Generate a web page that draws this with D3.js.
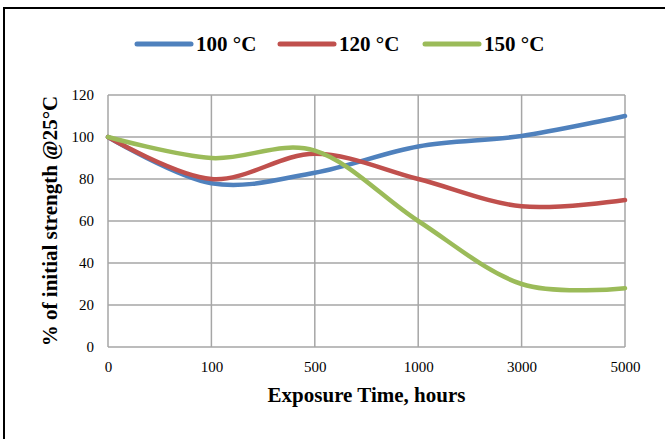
<!DOCTYPE html>
<html>
<head>
<meta charset="utf-8">
<script src="https://cdn.jsdelivr.net/npm/d3@7"></script>
<style>
  body { margin: 0; background: #fff; }
  text { font-family: "Liberation Serif", "Times New Roman", serif; fill: #000; }
</style>
</head>
<body>
<script>
// exposure time categories (hours)
const hours = ['0', '100', '500', '1000', '3000', '5000'];
const seriesNames = ['100 °C', '120 °C', '150 °C'];
const temp100 = [100, 78, 83, 95.5, 100.5, 110];
const temp120 = [100, 80, 92, 80, 67, 70];
const temp150 = [100, 90, 93.5, 60, 30, 28];
const yTicks = [0, 20, 40, 60, 80, 100, 120];
const colours = ['#4f81bd', '#c0504d', '#9bbb59'];

const width = 665;
const height = 439;
const margin = {top: 95, right: 40, bottom: 92, left: 108};

const svg = d3.select('body')
              .append('svg')
                .attr('width', width)
                .attr('height', height);

// outer frame (runs off the right and bottom of the picture)
svg.append('rect')
   .attr('x', 4)
   .attr('y', 8)
   .attr('width', width + 10)
   .attr('height', height + 10)
   .attr('fill', 'none')
   .attr('stroke', '#000')
   .attr('stroke-width', 2);

const xScale = d3.scalePoint()
                 .domain(hours)
                 .range([margin.left, width - margin.right]);

const yScale = d3.scaleLinear()
                 .domain([0, 120])
                 .range([height - margin.bottom, margin.top]);

// gridlines
svg.append('g')
   .selectAll('line')
   .data(yTicks)
   .enter()
   .append('line')
     .attr('x1', margin.left)
     .attr('x2', width - margin.right)
     .attr('y1', (d) => yScale(d))
     .attr('y2', (d) => yScale(d))
     .attr('stroke', '#a6a6a6')
     .attr('stroke-width', 1.5);

svg.append('g')
   .selectAll('line')
   .data(hours)
   .enter()
   .append('line')
     .attr('x1', (d) => xScale(d))
     .attr('x2', (d) => xScale(d))
     .attr('y1', yScale(0))
     .attr('y2', yScale(120))
     .attr('stroke', '#a6a6a6')
     .attr('stroke-width', 1.5);

// y axis labels
const yAxis = svg.append('g')
                 .attr('transform', `translate(${margin.left - 14}, 0)`)
                 .call(d3.axisLeft(yScale).tickValues(yTicks).tickSize(0).tickPadding(0));
yAxis.select('.domain').remove();
yAxis.selectAll('text')
     .style('font-family', '"Liberation Serif", serif')
     .style('font-size', '15px');

// x axis labels
const xAxis = svg.append('g')
                 .attr('transform', `translate(0, ${yScale(0) + 14})`)
                 .call(d3.axisBottom(xScale).tickSize(0).tickPadding(0));
xAxis.select('.domain').remove();
xAxis.selectAll('text')
     .style('font-family', '"Liberation Serif", serif')
     .style('font-size', '15px');

// axis titles
svg.append('text')
   .attr('x', (margin.left + width - margin.right) / 2)
   .attr('y', 402)
   .attr('text-anchor', 'middle')
   .style('font-weight', 'bold')
   .style('font-size', '21px')
   .text('Exposure Time, hours');

svg.append('text')
   .attr('transform', `translate(57, ${(yScale(0) + yScale(120)) / 2}) rotate(-90)`)
   .attr('text-anchor', 'middle')
   .style('font-weight', 'bold')
   .style('font-size', '21px')
   .text('% of initial strength @25°C');

// the lines
const seriesData = [temp100, temp120, temp150];
const line = d3.line()
               .x((d, i) => xScale(hours[i]))
               .y((d) => yScale(d))
               .curve(d3.curveCardinal.tension(0));

svg.append('g')
   .selectAll('path')
   .data(seriesData)
   .enter()
   .append('path')
     .attr('d', (d) => line(d))
     .attr('fill', 'none')
     .attr('stroke', (d, i) => colours[i])
     .attr('stroke-width', 4.5)
     .attr('stroke-linecap', 'round');

// legend
const legendX = [137, 280, 425];
const legend = svg.append('g')
                  .selectAll('g')
                  .data(seriesNames)
                  .enter()
                  .append('g')
                    .attr('transform', (d, i) => `translate(${legendX[i]}, 44)`);
legend.append('line')
      .attr('x1', 0)
      .attr('x2', 54)
      .attr('stroke', (d, i) => colours[i])
      .attr('stroke-width', 5)
      .attr('stroke-linecap', 'round');
legend.append('text')
      .attr('x', 59)
      .attr('y', 7)
      .style('font-weight', 'bold')
      .style('font-size', '21px')
      .text((d) => d);
</script>
</body>
</html>
